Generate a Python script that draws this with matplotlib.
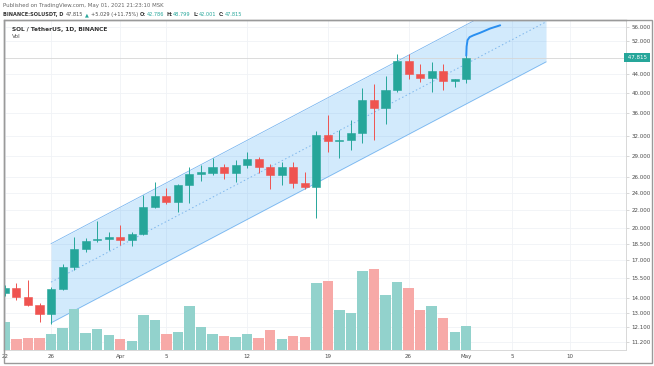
import matplotlib
matplotlib.use("Agg")
import matplotlib.pyplot as plt
import matplotlib.dates as mdates
from matplotlib.patches import Rectangle
from matplotlib.ticker import FixedLocator, FuncFormatter, NullLocator
import numpy as np
import pandas as pd

# daily candles, Mar 22 .. May 1 2021
days = pd.date_range("2021-03-22", "2021-05-01", freq="D")
opens = [14.35, 14.75, 14.1, 13.5, 12.9, 14.7, 16.4, 18.0, 18.85, 18.9, 19.15, 18.85, 19.4, 22.3,
         23.6, 22.85, 24.9, 26.4, 26.6, 27.3, 26.6, 27.7, 28.45, 27.3, 26.2, 27.4, 25.2, 24.7,
         32.2, 31.25, 31.4, 32.5, 38.6, 37.0, 40.5, 47.1, 43.9, 43.0, 44.6, 42.4, 42.786]
highs = [14.95, 15.1, 15.4, 13.65, 14.8, 16.7, 19.1, 19.0, 20.8, 19.6, 20.4, 19.6, 23.7, 25.4,
         24.6, 25.1, 27.3, 27.6, 28.7, 27.8, 28.3, 29.6, 28.8, 27.8, 28.0, 28.0, 26.7, 32.8,
         35.6, 33.0, 34.8, 40.9, 41.9, 43.5, 48.6, 48.8, 46.4, 46.7, 46.3, 42.9, 48.799]
lows = [14.15, 13.9, 13.45, 12.4, 12.3, 14.6, 16.2, 17.7, 18.7, 17.9, 18.4, 18.3, 19.3, 22.2,
        22.7, 21.7, 22.8, 25.5, 26.3, 25.7, 25.4, 27.2, 26.5, 24.5, 25.0, 24.6, 24.5, 21.1,
        29.6, 28.6, 29.9, 31.0, 31.4, 34.1, 40.2, 42.9, 42.2, 40.1, 40.5, 41.2, 42.001]
closes = [14.75, 14.1, 13.55, 12.9, 14.7, 16.4, 18.0, 18.8, 18.95, 19.15, 18.85, 19.4, 22.3, 23.6,
          22.85, 24.9, 26.4, 26.7, 27.3, 26.6, 27.7, 28.45, 27.3, 26.2, 27.4, 25.2, 24.7, 32.2,
          31.3, 31.45, 32.5, 38.6, 37.0, 40.5, 47.1, 43.9, 43.0, 44.6, 42.4, 42.786, 47.815]
volume = [28.3, 10.7, 12.3, 11.7, 16.3, 22.3, 40.7, 17.0, 21.0, 14.7, 11.3, 9.3, 35.0, 29.7,
          15.7, 18.3, 44.0, 23.3, 16.3, 14.3, 13.0, 15.7, 12.0, 20.0, 11.0, 14.3, 13.0, 66.7,
          68.7, 40.0, 36.7, 79.3, 80.7, 55.0, 67.7, 62.3, 40.0, 44.3, 32.3, 18.3, 24.3]

# parallel channel drawing
channel_dates = ["2021-03-26 00:00", "2021-05-07 22:00"]
channel_low = [12.35, 46.8]
channel_mid = [15.2, 57.4]
channel_high = [18.5, 70.1]

# projection path (days after May 1, price)
proj_days = [0, 0.03, 0.11, 0.29, 0.63, 1.21, 2.08, 2.94]
proj_price = [48.3, 50.6, 52.3, 53.1, 53.6, 54.3, 55.5, 56.4]

price_ticks = [56, 52, 44, 40, 36, 32, 29, 26, 24, 22, 20, 18.5, 17, 15.5, 14, 13, 12.1, 11.2]
date_ticks = ["2021-03-22", "2021-03-26", "2021-04-01", "2021-04-05", "2021-04-12",
              "2021-04-19", "2021-04-26", "2021-05-01", "2021-05-05", "2021-05-10"]
date_labels = ["22", "26", "Apr", "5", "12", "19", "26", "May", "5", "10"]
last_price = 47.815

GREEN = "#26a69a"
RED = "#ef5350"
TXT = "#4a4a4a"
W, H = 654, 366

fig = plt.figure(figsize=(W / 100, H / 100), dpi=100)
fig.patch.set_facecolor("white")
ax = fig.add_axes([4 / W, (H - 350) / H, 622 / W, 330 / H])
ax_vol = ax.twinx()

x = mdates.date2num(days)
o = np.array(opens)
c = np.array(closes)
up = c >= o
cols = np.where(up, GREEN, RED)

# price pane (log)
ax.set_yscale("log")
ax.set_ylim(10.75, 57.95)
ax.set_xlim(x[0] - 0.08, x[-1] + 13.85)

cx = mdates.date2num(pd.to_datetime(channel_dates, format="%Y-%m-%d %H:%M"))
ax.fill_between(cx, channel_low, channel_high, color="#2196f3", alpha=0.2, lw=0, zorder=1)
ax.plot(cx, channel_low, color="#74b3ef", lw=0.55, zorder=2)
ax.plot(cx, channel_high, color="#74b3ef", lw=0.55, zorder=2)
ax.plot(cx, channel_mid, color="#7db6ec", lw=0.7, ls=(0, (1.5, 2.5)), zorder=2)

ax.axhline(last_price, color="#d6d6d6", lw=0.6, zorder=1.5)

ax.vlines(x, lows, highs, colors=cols, lw=0.7, zorder=3)
ax.bar(x, np.abs(c - o), bottom=np.minimum(o, c), width=0.7, color=cols,
       edgecolor=cols, lw=0.4, zorder=4)

ax.plot(x[-1] + np.array(proj_days), proj_price, color="#2a8ff0", lw=1.4,
        solid_capstyle="round", zorder=5)

# volume overlay
ax_vol.bar(x, volume, width=0.9, color=np.where(up, "#92d2cc", "#f7a9a7"), lw=0)
ax_vol.set_ylim(0, max(volume) / 0.245)
ax_vol.yaxis.set_visible(False)
for s in ax_vol.spines.values():
    s.set_visible(False)

# axes styling
ax.yaxis.tick_right()
ax.yaxis.set_major_locator(FixedLocator(price_ticks))
ax.yaxis.set_major_formatter(FuncFormatter(lambda v, p: f"{v:.3f}"))
ax.yaxis.set_minor_locator(NullLocator())
ax.tick_params(axis="y", labelsize=4, colors="#c8c8c8", labelcolor=TXT, length=2, width=0.5, pad=2)
ax.set_xticks(mdates.date2num(pd.to_datetime(date_ticks)))
ax.set_xticklabels(date_labels)
ax.tick_params(axis="x", labelsize=4, labelcolor=TXT, length=0, pad=3)
ax.grid(True, color="#f0f2f6", lw=0.6)
ax.set_axisbelow(True)
for side in ("left", "top"):
    ax.spines[side].set_color("#9a9a9a")
    ax.spines[side].set_linewidth(1.0)
for side in ("right", "bottom"):
    ax.spines[side].set_color("#d8d8d8")
    ax.spines[side].set_linewidth(0.7)

ax.text(1.0, last_price, " 47.815 ", transform=ax.get_yaxis_transform(), ha="left", va="center",
        fontsize=4, color="white", zorder=10, clip_on=False,
        bbox=dict(boxstyle="square,pad=0.3", fc=GREEN, ec="none"))

# outer frame
fig.patches.append(Rectangle((4 / W, 3 / H), 648 / W, 343 / H, transform=fig.transFigure,
                             fill=False, ec="#9a9a9a", lw=1.0))

# headers
fig.text(3 / W, 1 - 5.5 / H, "Published on TradingView.com, May 01, 2021 21:23:10 MSK",
         fontsize=3.9, color="#666666", va="center")

renderer = fig.canvas.get_renderer()
parts = [("BINANCE:SOLUSDT, D", "#333333", "bold", 0), ("47.815", TXT, "normal", 2.3),
         ("\u25b2", GREEN, "normal", 1.8), ("+5.029 (+11.75%)", TXT, "normal", 1.8),
         ("O:", "#333333", "bold", 2.3), ("42.786", GREEN, "normal", 0.5),
         ("H:", "#333333", "bold", 2.3), ("48.799", GREEN, "normal", 0.5),
         ("L:", "#333333", "bold", 2.3), ("42.001", GREEN, "normal", 0.5),
         ("C:", "#333333", "bold", 2.3), ("47.815", GREEN, "normal", 0.5)]
xpos = 3.0
for s, col, wt, gap in parts:
    xpos += gap
    t = fig.text(xpos / W, 1 - 14.5 / H, s, fontsize=3.65, color=col, fontweight=wt, va="center")
    xpos = t.get_window_extent(renderer=renderer).x1

ax.text(8 / 622, 1 - 9 / 330, "SOL / TetherUS, 1D, BINANCE", transform=ax.transAxes,
        fontsize=4.2, fontweight="bold", color="#333333", va="center")
ax.text(8 / 622, 1 - 17 / 330, "Vol", transform=ax.transAxes, fontsize=4.2,
        color="#555555", va="center")

fig.savefig("out.png", dpi=100, facecolor="white")
